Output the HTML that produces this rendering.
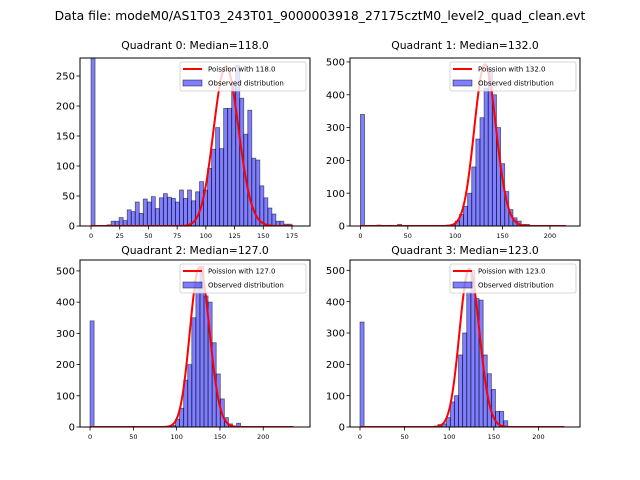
<!DOCTYPE html>
<html><head><meta charset="utf-8"><style>
body{margin:0;background:#fff}
svg{display:block;font-family:"DejaVu Sans","Liberation Sans",sans-serif}
</style></head><body>
<svg id="fig" width="640" height="480" viewBox="0 0 640 480">
<rect width="640" height="480" fill="#fff"/>
<text x="320" y="20" text-anchor="middle" font-size="12.4">Data file: modeM0/AS1T03_243T01_9000003918_27175cztM0_level2_quad_clean.evt</text>
</svg>
<script>
const q0Counts=[280,0,0,0,2,8,8,14,9,27,24,40,21,45,40,49,29,47,54,48,46,40,60,46,60,42,57,74,60,96,128,164,129,196,196,240,268,213,153,193,113,110,67,47,30,20,8,8,3,3];
const q1Counts=[340,0,1,1,3,0,0,2,1,5,1,1,0,0,0,0,0,0,0,0,1,3,5,15,35,60,100,180,265,330,420,480,400,300,190,105,50,25,15,5,5,0,0,0,0,0,0,0,0,0];
const q2Counts=[340,0,0,0,0,0,0,0,0,0,0,0,0,0,0,0,0,0,0,2,5,25,60,150,200,350,460,515,420,400,270,170,90,30,10,0,12,0,0,0,0,0,0,0,0,0,0,0,0,0];
const q3Counts=[335,0,0,0,0,0,0,0,0,0,0,0,0,0,0,0,0,0,3,8,10,30,80,100,230,300,430,500,410,405,230,170,120,50,50,20,0,0,0,0,0,0,0,0,0,0,0,0,0,0];
const binWidths=[3.5,4.35,4.7,4.6];
const medians=[118,132,127,123];
const poissonPeaks=[266,492,512,505];
const curveMax=[176,217,235,229];
const xTicks=[[0,25,50,75,100,125,150,175],[0,50,100,150,200],[0,50,100,150,200],[0,50,100,150,200]];
const yTicks=[[0,50,100,150,200,250],[0,100,200,300,400,500],[0,100,200,300,400,500],[0,100,200,300,400,500]];
const titles=["Quadrant 0: Median=118.0","Quadrant 1: Median=132.0","Quadrant 2: Median=127.0","Quadrant 3: Median=123.0"];
const allCounts=[q0Counts,q1Counts,q2Counts,q3Counts];
// layout (pixels)
const boxes=[{x:80,y:58,w:230,h:168},{x:350,y:58,w:230,h:168},{x:80,y:260,w:230,h:167},{x:350,y:260,w:230,h:167}];
const titleOff=[9,9,6,6];
const xDom=[[-9.6,190.7],[-11,231.7],[-11.6,254],[-11.2,246.5]];
const yDom=[[0,280],[0,512],[0,535],[0,533]];
const NS="http://www.w3.org/2000/svg";
const svg=document.getElementById('fig');
function mk(tag,attrs,parent){const e=document.createElementNS(NS,tag);for(const k in attrs)e.setAttribute(k,attrs[k]);(parent||svg).appendChild(e);return e;}
function logFact(k){let s=0;for(let i=2;i<=k;i++)s+=Math.log(i);return s;}
for(let q=0;q<4;q++){
  const b=boxes[q];
  const sx=v=>b.x+(v-xDom[q][0])/(xDom[q][1]-xDom[q][0])*b.w;
  const sy=v=>b.y+b.h-(v-yDom[q][0])/(yDom[q][1]-yDom[q][0])*b.h;
  const g=mk('g',{});
  
  
  const cid='clip'+q;
  const cp=mk('clipPath',{id:cid},g);mk('rect',{x:b.x,y:b.y,width:b.w,height:b.h},cp);
  const bars=mk('g',{'clip-path':'url(#'+cid+')'},g);
  
  
  const c=allCounts[q],bw=binWidths[q];
  c.forEach((v,i)=>{
    if(v<=0)return;
    const x0=sx(i*bw),x1=sx((i+1)*bw);
    const r=mk('rect',{x:x0,y:sy(v),width:x1-x0,height:sy(0)-sy(v),fill:'rgba(0,0,255,0.5)',stroke:'rgba(0,0,0,0.55)','stroke-width':0.8},bars);
    
    
  });
  const lam=medians[q];
  const lpl=lam*Math.log(lam)-lam-logFact(Math.round(lam));
  let d='';
  for(let k=0;k<=curveMax[q];k++){
    const lp=k*Math.log(lam)-lam-logFact(k);
    const val=poissonPeaks[q]*Math.exp(lp-lpl);
    d+=(k?'L':'M')+sx(k).toFixed(2)+','+sy(val).toFixed(2);
  }
  const pl=mk('path',{d:d,fill:'none',stroke:'#ff0000','stroke-width':2},bars);
  
  
  mk('rect',{x:b.x,y:b.y,width:b.w,height:b.h,fill:'none',stroke:'#000','stroke-width':1},g);
  xTicks[q].forEach(t=>{
    const x=sx(t);
    mk('line',{x1:x,x2:x,y1:b.y+b.h,y2:b.y+b.h+3.5,stroke:'#000','stroke-width':0.8},g);
    const tx=mk('text',{x:x,y:b.y+b.h+12,'text-anchor':'middle','font-size':6.5},g);
    tx.textContent=t;
    
    
  });
  yTicks[q].forEach(t=>{
    const y=sy(t);
    mk('line',{x1:b.x-3.5,x2:b.x,y1:y,y2:y,stroke:'#000','stroke-width':0.8},g);
    const tx=mk('text',{x:b.x-5,y:y+3.6,'text-anchor':'end','font-size':10},g);
    tx.textContent=t;
    
    
  });
  const tt=mk('text',{x:b.x+b.w/2,y:b.y-titleOff[q],'text-anchor':'middle','font-size':10.8},g);
  tt.textContent=titles[q];
  
  
  const lg=mk('g',{},g);
  
  
  const lx=b.x+b.w-130,ly=b.y+4;
  mk('rect',{x:lx,y:ly,width:126,height:29,rx:2,fill:'rgba(255,255,255,0.8)',stroke:'#ccc','stroke-width':0.8},lg);
  mk('line',{x1:lx+3,x2:lx+22,y1:ly+7,y2:ly+7,stroke:'#ff0000','stroke-width':2},lg);
  mk('rect',{x:lx+3,y:ly+18,width:19,height:6,fill:'rgba(0,0,255,0.5)',stroke:'rgba(0,0,0,0.55)','stroke-width':0.8},lg);
  const t1=mk('text',{x:lx+28,y:ly+9.5,'font-size':7},lg);
  t1.textContent='Poission with '+lam.toFixed(1);
  
  
  const t2=mk('text',{x:lx+28,y:ly+23.5,'font-size':7},lg);
  t2.textContent='Observed distribution';
  
  
}
</script>
</body></html>
